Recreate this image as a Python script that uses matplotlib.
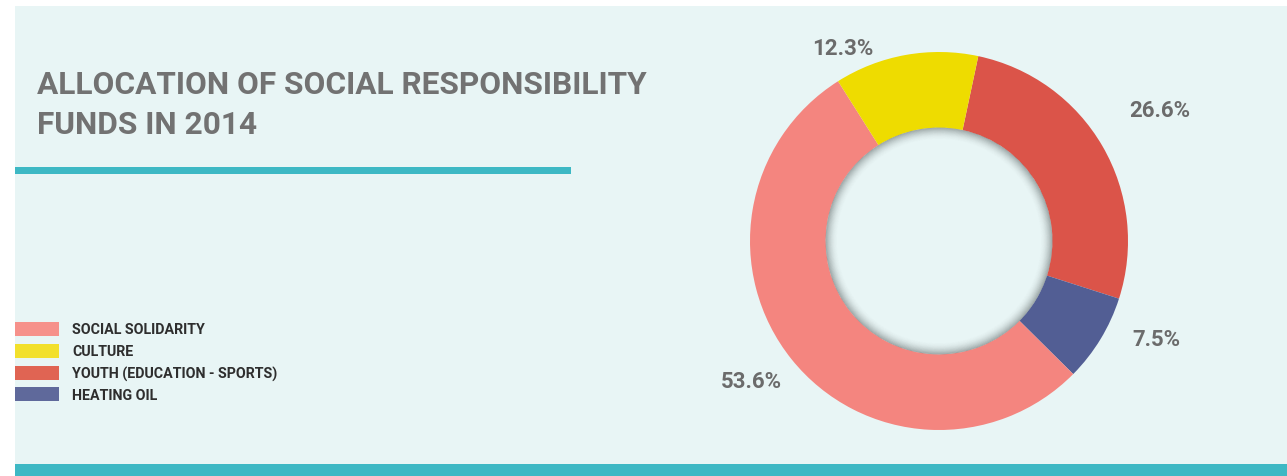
import matplotlib
matplotlib.use("Agg")
import matplotlib.pyplot as plt
from matplotlib.patches import Rectangle, Wedge
import numpy as np

plt.rcParams['font.family'] = ['Roboto', 'DejaVu Sans']

# allocation shares, in drawing order (clockwise from the top-right)
categories = ["YOUTH (EDUCATION - SPORTS)", "HEATING OIL", "SOCIAL SOLIDARITY", "CULTURE"]
shares = [26.6, 7.5, 53.6, 12.3]
colors = ["#db5449", "#525e94", "#f4857f", "#eedc00"]

legend_order = ["SOCIAL SOLIDARITY", "CULTURE", "YOUTH (EDUCATION - SPORTS)", "HEATING OIL"]
legend_colors = {"SOCIAL SOLIDARITY": "#f6918b", "CULTURE": "#f2e02c",
                 "YOUTH (EDUCATION - SPORTS)": "#e06453", "HEATING OIL": "#5f699b"}

title_lines = ["ALLOCATION OF SOCIAL RESPONSIBILITY", "FUNDS IN 2014"]

# label placement tweaks: (angle shift in degrees, distance in radii)
label_pos = [(0.5, 1.36), (7.0, 1.26), (-2.0, 1.24), (16.5, 1.14)]

BG = "#e8f5f5"
TEAL = "#3db8c4"
W, H = 1287, 477

fig = plt.figure(figsize=(W / 100, H / 100), dpi=100, facecolor="white")

# background layer in pixel coordinates
bg = fig.add_axes([0, 0, 1, 1])
bg.set_xlim(0, W)
bg.set_ylim(H, 0)
bg.axis("off")
bg.add_patch(Rectangle((15, 7), W - 15, H - 7, color=BG, lw=0))
bg.add_patch(Rectangle((15, 465), W - 15, 12, color=TEAL, lw=0))
bg.add_patch(Rectangle((15, 168), 556, 7, color=TEAL, lw=0))

for i, line in enumerate(title_lines):
    bg.text(37, 94 + 40 * i, line, fontsize=22.8, color="#727272",
            fontweight="bold", va="baseline", ha="left")

for i, name in enumerate(legend_order):
    y = 330 + 21.8 * i
    bg.add_patch(Rectangle((15, y - 7), 44, 14, color=legend_colors[name], lw=0))
    bg.text(72, y + 0.5, name, fontsize=10.3, color="#2e2e2e",
            fontweight="bold", va="center", ha="left")

# donut
R_PX = 189
side = 600
L = side / 2 / R_PX
cx, cy = 939, H - 242
ax = fig.add_axes([(cx - side / 2) / W, (cy - side / 2) / H, side / W, side / H])
wedges, _ = ax.pie(shares, colors=colors, startangle=78, counterclock=False,
                   radius=1.0, wedgeprops=dict(width=0.4, linewidth=0))
ax.set_xlim(-L, L)
ax.set_ylim(-L, L)
ax.set_aspect("equal")
ax.axis("off")

# soft inner shadow around the hole
n = 16
for k in range(n):
    r_out = 0.6 - k * 0.004
    ax.add_patch(Wedge((0, 0), r_out, 0, 360, width=0.004,
                       facecolor="#2c3434", alpha=0.42 * (1 - k / n) ** 2, lw=0))

for w, val, (shift, dist) in zip(wedges, shares, label_pos):
    mid = np.deg2rad((w.theta1 + w.theta2) / 2 + shift)
    ax.text(dist * np.cos(mid), dist * np.sin(mid), f"{val}%", fontsize=16,
            color="#6b6b6b", fontweight="bold", ha="center", va="center")

fig.savefig("out.png", dpi=100, facecolor="white")
